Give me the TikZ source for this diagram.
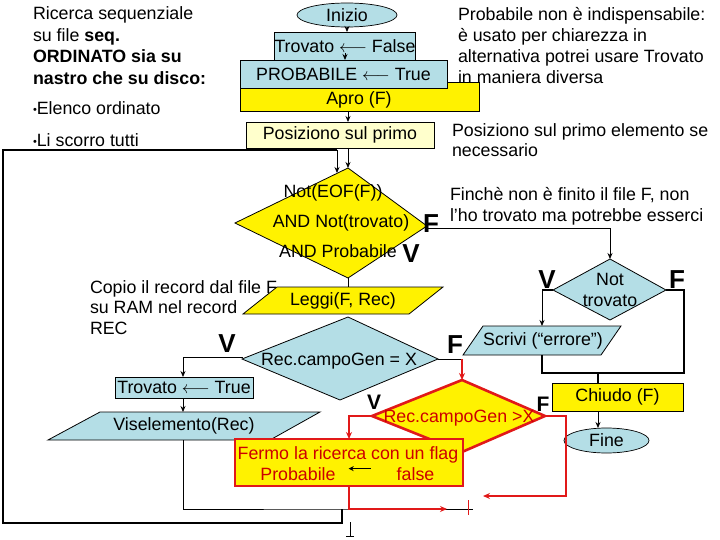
\documentclass[tikz,border=0pt]{standalone}
\usepackage{fontspec}
\setmainfont{Liberation Sans}
\usetikzlibrary{shapes.geometric,arrows.meta}
\definecolor{lblue}{RGB}{180,222,230}
\definecolor{lyel}{RGB}{255,255,204}
\definecolor{fred}{RGB}{225,25,25}
\definecolor{tred}{RGB}{205,0,0}
\newcommand\myfs{\fontsize{17.8}{20}\selectfont}
\newcommand\lblf{\fontsize{26}{26}\selectfont\bfseries}
\newcommand\lblfs{\fontsize{21}{21}\selectfont\bfseries}
\newcommand\mybul{{\fontsize{11}{11}\selectfont\raisebox{1.5pt}{\textbullet}}}
\begin{document}
\begin{tikzpicture}[x=1pt,y=-1pt,
  every node/.style={inner sep=0pt, outer sep=0pt},
  tx/.style={anchor=base west, font=\myfs},
  ctx/.style={anchor=base, font=\myfs},
  rtx/.style={anchor=base, font=\myfs, text=tred},
  box/.style={draw=black, line width=0.7pt, font=\myfs},
  ln/.style={line width=0.8pt},
  thk/.style={line width=1.8pt},
  arr/.style={-{Stealth[length=6pt,width=5pt]}},
  rarr/.style={-{Stealth[length=7pt,width=6pt]}, draw=fred, line width=1.6pt},
  vf/.style={font=\lblf},
  vfs/.style={font=\lblfs},
]
\useasboundingbox (0,0) rectangle (720,540);

% ---------- coordinates ----------
\coordinate (d1t) at (348,168);
\coordinate (d1r) at (427,226);
\coordinate (d1b) at (348,278);
\coordinate (d1l) at (235,223);
\coordinate (lgA) at (277,287);
\coordinate (lgB) at (443,287);
\coordinate (lgC) at (409,314);
\coordinate (lgD) at (243,314);
\coordinate (d2t) at (348,317);
\coordinate (d2r) at (438,359);
\coordinate (d2b) at (340,400);
\coordinate (d2l) at (242,359);
\coordinate (vsA) at (100,412);
\coordinate (vsB) at (320,412);
\coordinate (vsC) at (270,440);
\coordinate (vsD) at (48,440);
\coordinate (d3t) at (462,380);
\coordinate (d3r) at (545,416);
\coordinate (d3b) at (462,452);
\coordinate (d3l) at (372,416);
\coordinate (d4t) at (610,259);
\coordinate (d4r) at (666,290);
\coordinate (d4b) at (610,320);
\coordinate (d4l) at (553,290);
\coordinate (scA) at (483,326);
\coordinate (scB) at (621,326);
\coordinate (scC) at (601,355);
\coordinate (scD) at (463,355);
\coordinate (mrg) at (342,509);
\coordinate (lpB) at (342,523);
\coordinate (lpT) at (3,150);
\coordinate (lpin) at (337,173);
\coordinate (endl) at (473,509);
\coordinate (vb1) at (243,357);
\coordinate (vb2) at (183,357);
\coordinate (f2) at (462,359);
\coordinate (f1) at (427,228);
\coordinate (f1b) at (610,228);
\coordinate (vl4) at (542,290);
\coordinate (sc1) at (542,355);
\coordinate (j1) at (542,373);
\coordinate (j2) at (684,373);
\coordinate (j3) at (684,290);
\coordinate (j4) at (598,373);
\coordinate (rr1) at (566,416);
\coordinate (rr2) at (483,496);
\coordinate (rb1) at (447,509);
\coordinate (tk1) at (468,500);
\coordinate (tk2) at (468,515);
\coordinate (bt1) at (350,522);
\coordinate (bt2) at (350,537);

% ---------- loop line ----------
\draw[thk] (mrg) -- (lpB) -| (lpT) -- (lpin |- lpT);
\draw[ln,arr] (lpin |- lpT) -- (lpin);

% ---------- left texts ----------
\node[tx] (t1) at (33,19.5) {Ricerca sequenziale};
\node[tx] (t2) at (33,41.2) {su file \textbf{seq.}};
\node[tx] (t3) at (33,62.9) {\textbf{ORDINATO sia su}};
\node[tx] (t4) at (33,84.6) {\textbf{nastro che su disco:}};
\node[tx] (t5) at (33,115) {\mybul Elenco ordinato};
\node[tx] (t6) at (33,147) {\mybul Li scorro tutti};

% ---------- top blocks ----------
\node[ellipse, box, fill=lblue, minimum width=100pt, minimum height=24pt] (inizio) at (347,15) {Inizio};
\node[box, fill=yellow, minimum width=239pt, minimum height=29pt] (apro) at (359.5,96.5) {};
\node[box, fill=lblue, minimum width=207pt, minimum height=28pt] (prob) at (343.5,74) {PROBABILE $\longleftarrow$ True};
\node[box, fill=lblue, minimum width=140pt, minimum height=28pt] (trov1) at (345,46) {Trovato $\longleftarrow$ False};
\node[font=\myfs] (aprot) at (359,99.5) {Apro (F)};
\node[box, fill=lyel, minimum width=188pt, minimum height=26pt] (pos) at (340,135) {Posiziono sul primo};

\draw[ln,arr] (inizio.south) -- (inizio.south |- trov1.north);
\draw[ln,arr] (trov1.south) ++(0,-7) -- (trov1.south);
\draw[ln,arr] (apro.south -| d1t) -- (pos.north -| d1t);
\draw[ln,arr] (pos.south -| d1t) -- (d1t);

% ---------- right texts ----------
\node[tx] (r1) at (458,21) {Probabile non è indispensabile:};
\node[tx] (r2) at (458,42) {è usato per chiarezza in};
\node[tx] (r3) at (458,63) {alternativa potrei usare Trovato};
\node[tx] (r4) at (458,84) {in maniera diversa};
\node[tx] (p1) at (452,137) {Posiziono sul primo elemento se};
\node[tx] (p2) at (452,157) {necessario};
\node[tx] (q1) at (450,201) {Finchè non è finito il file F, non};
\node[tx] (q2) at (450,222) {l’ho trovato ma potrebbe esserci};
\node[tx] (c1) at (90,293) {Copio il record dal file F};
\node[tx] (c2) at (90,313) {su RAM nel record};
\node[tx] (c3) at (90,334) {REC};

% ---------- main diamond ----------
\draw[ln, fill=yellow] (d1t) -- (d1r) -- (d1b) -- (d1l) -- cycle;
\node[ctx] (d1a) at (333,198) {Not(EOF(F))};
\node[ctx] (d1c) at (341,228) {AND Not(trovato)};
\node[ctx] (d1d) at (338,257) {AND Probabile};
\node[vf] (lF1) at (431,224) {F};
\node[vf] (lV1) at (411,253.5) {V};

% ---------- Leggi ----------
\draw[ln] (d1b) -- (d1b |- lgA);
\draw[ln, fill=yellow] (lgA) -- (lgB) -- (lgC) -- (lgD) -- cycle;
\node[font=\myfs] (leggi) at (343,301) {Leggi(F, Rec)};

% ---------- diamond Rec = X ----------
\draw[ln, fill=lblue] (d2t) -- (d2r) -- (d2b) -- (d2l) -- cycle;
\node[ctx] (d2x) at (339,365) {Rec.campoGen = X};
\node[vf] (lV2) at (227,344) {V};
\node[vf] (lF2) at (455,345) {F};

% ---------- V branch ----------
\node[box, fill=lblue, minimum width=138pt, minimum height=21pt] (trov2) at (184,387.5) {Trovato $\longleftarrow$ True};
\draw[ln,arr] (vb1) -- (vb2) -- (vb2 |- trov2.north);
\draw[ln, fill=lblue] (vsA) -- (vsB) -- (vsC) -- (vsD) -- cycle;
\node[font=\myfs] (visel) at (184,426) {Viselemento(Rec)};
\draw[ln,arr] (trov2.south -| vb2) -- (vb2 |- vsA);
\draw[ln] (vb2 |- vsD) |- (mrg) -- (endl);

% ---------- Not trovato ----------
\draw[ln,arr] (f1) -- (f1b) -- (d4t);
\draw[ln, fill=lblue] (d4t) -- (d4r) -- (d4b) -- (d4l) -- cycle;
\node[ctx] (d4a) at (610,285) {Not};
\node[ctx] (d4c) at (610,306) {trovato};
\node[vf] (lV4) at (547,280) {V};
\node[vf] (lF4) at (677,280) {F};
\draw[thk] (d4l) -- (vl4);
\draw[ln,arr] (vl4) -- (vl4 |- scA);
\draw[ln, fill=lblue] (scA) -- (scB) -- (scC) -- (scD) -- cycle;
\node[font=\myfs] (scrivi) at (543,341) {Scrivi (“errore”)};
\draw[thk] (sc1) -- (j1) -- (j2) -- (j3) -- (d4r);
\node[box, fill=yellow, minimum width=131pt, minimum height=28pt] (chiudo) at (617.5,397) {Chiudo (F)};
\draw[thk] (j4) -- (j4 |- chiudo.north);
\node[ellipse, box, fill=lblue, minimum width=85pt, minimum height=25pt] (fine) at (606.5,440.5) {Fine};
\draw[ln,arr] (j4 |- chiudo.south) -- (j4 |- fine.north);

% ---------- red part ----------
\draw[ln] (d2r) -- (f2);
\draw[rarr] (f2) -- (d3t);
\draw[draw=fred, line width=2.6pt, fill=yellow] (d3t) -- (d3r) -- (d3b) -- (d3l) -- cycle;
\node[rtx] (d3x) at (459,422) {Rec.campoGen >X};
\node[vfs] (lV3) at (374,402) {V};
\node[vfs] (lF3) at (543,404) {F};
\node[draw=fred, line width=2.6pt, fill=yellow, minimum width=228pt, minimum height=47pt] (fermo) at (349,462.5) {};
\node[rtx] (fe1) at (348,459) {Fermo la ricerca con un flag};
\node[rtx] (fe2) at (298,480) {Probabile};
\node[rtx] (fe3) at (415.5,480) {false};
\draw[line width=1.2pt, -{Stealth[length=5pt,width=5pt]}] (fe3.west) ++(-26,-5) coordinate (fa1) -- ++(-22,0) coordinate (fa2);
\draw[rarr] (d3l) -| (fermo.north);
\draw[rarr] (fermo.south) |- (rb1);
\draw[rarr] (d3r) -- (rr1) |- (rr2);
\draw[draw=fred, line width=0.8pt] (tk1) -- (tk2);
\draw[ln, -{Bar[width=8pt]}] (bt1) -- (bt2);
\end{tikzpicture}
\end{document}
